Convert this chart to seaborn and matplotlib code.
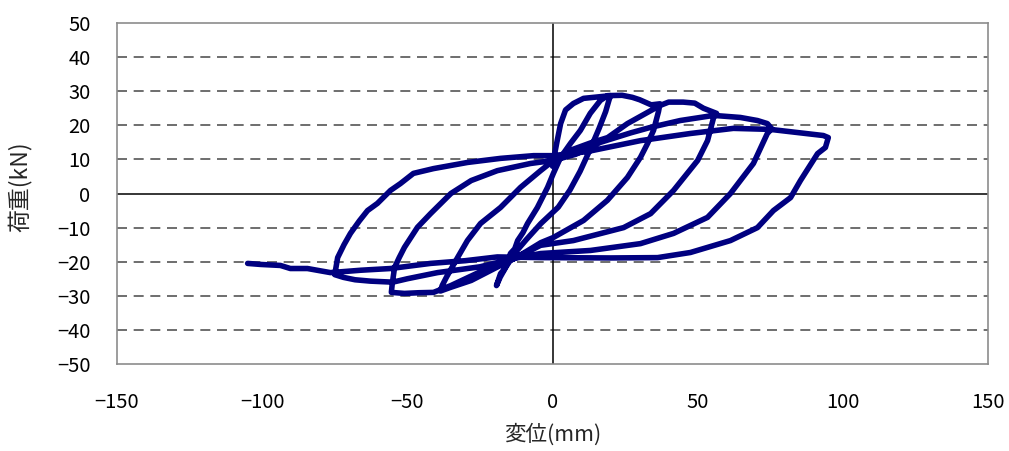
import numpy as np
import pandas as pd
import matplotlib
matplotlib.use("Agg")
import matplotlib.pyplot as plt
import seaborn as sns

# Load-displacement record, split into branches in test order.
# Cycle 1: first loading, unloading, reversal
disp_c1 = [0, 0.3, 0.6, 1.5, 2.8, 4.5, 7.2, 10.7, 16.5, 20.0,
           19.5, 18.3, 16.0, 13.0, 9.5, 6.0, 2.0, -4.0, -9.0, -13.0, -16.0, -18.0, -19.3]
load_c1 = [8.0, 9.0, 11.0, 15.0, 20.5, 24.5, 26.4, 27.9, 28.4, 28.7,
           27.5, 24.0, 19.0, 13.0, 6.5, 1.0, -4.0, -8.8, -13.5, -17.5, -21.5, -24.5, -27.0]

# Cycle 2: reload to the second positive peak, then to the second negative peak
disp_c2 = [-18.5, -17.9, -16.8, -15.5, -14.5, -13.0, -12.0, -10.2, -8.6, -5.2, -1.7, 0.3, 2.8,
           6.2, 9.6, 13.0, 16.5, 19.0, 24.0, 27.5, 30.0, 34.0, 37.0,
           36.5, 34.8, 32.7, 30.3, 25.8, 18.9, 10.7, 0.3, -4.0, -9.0, -13.0,
           -20.0, -28.0, -35.0, -38.6]
load_c2 = [-25.0, -23.5, -22.4, -20.5, -17.6, -16.2, -13.8, -11.5, -8.8, -4.1, 1.8, 5.9, 10.6,
           14.7, 18.5, 23.5, 27.3, 28.7, 28.8, 28.2, 27.5, 26.0, 26.3,
           24.0, 18.5, 14.6, 10.6, 4.7, -2.0, -7.9, -12.9, -14.4, -17.0, -19.0,
           -22.0, -25.5, -27.5, -28.6]

# Cycle 3
disp_c3 = [-38.0, -36.5, -34.5, -32.7, -29.3, -24.8, -17.9, -11.0, -4.1, 1.7,
           7.2, 13.0, 19.0, 25.8, 33.8, 37.0, 40.0, 45.0, 49.0, 52.0, 56.5,
           55.5, 53.4, 50.0, 41.7, 33.8, 24.5, 7.2, -4.1, -13.0,
           -25.0, -35.0, -41.0, -46.0, -51.0, -55.5]
load_c3 = [-27.0, -24.5, -21.5, -18.8, -13.8, -8.8, -4.1, 1.8, 6.7, 10.6,
           13.0, 14.8, 16.4, 20.5, 24.3, 25.8, 26.8, 26.8, 26.5, 25.0, 23.5,
           22.3, 15.5, 9.7, 0.9, -5.9, -10.0, -13.8, -15.2, -19.0,
           -23.0, -27.0, -29.0, -29.1, -29.3, -29.0]

# Cycle 4
disp_c4 = [-55.2, -54.4, -52.8, -51.0, -46.5, -42.0, -35.0, -28.0, -19.0, -7.6, 0.3,
           8.0, 16.5, 27.0, 33.8, 44.0, 55.5, 64.7, 70.6, 74.0, 75.5,
           74.0, 69.2, 61.3, 53.4, 41.7, 30.3, 13.1, -4.1, -13.0,
           -25.0, -39.6, -50.0, -55.0, -62.7, -68.0, -72.0, -75.0]
load_c4 = [-26.5, -21.7, -18.8, -15.8, -9.9, -5.9, 0.0, 3.8, 6.7, 8.8, 9.7,
           11.5, 15.0, 17.8, 19.4, 21.4, 22.9, 22.3, 21.4, 20.5, 19.0,
           17.6, 8.8, 0.0, -7.0, -11.7, -14.7, -16.7, -17.6, -19.0,
           -21.5, -23.2, -25.0, -26.0, -25.7, -25.3, -24.6, -23.8]

# Cycle 5: reload to the largest positive excursion, then the final negative run
disp_c5 = [-74.0, -71.8, -69.6, -66.5, -63.7, -60.3, -55.8, -52.4, -47.9, -41.0, -29.3, -17.9, -6.5, 0.3,
           12.0, 30.3, 47.5, 62.3, 75.0, 85.0, 93.3, 95.0,
           94.0, 91.3, 85.4, 82.0, 76.1, 70.6, 61.3, 47.5, 36.2, 20.0, -4.1,
           -19.0, -30.0, -42.0, -55.8, -66.0, -76.5, -84.4, -90.3, -93.7, -100.6, -105.0]
load_c5 = [-18.8, -15.0, -11.7, -8.0, -5.0, -2.9, 0.9, 2.9, 5.9, 7.3, 9.1, 10.3, 11.1, 11.1,
           12.3, 15.5, 17.6, 19.1, 18.8, 17.8, 17.0, 16.4,
           13.5, 11.7, 3.8, -1.2, -5.0, -10.0, -13.8, -17.3, -18.8, -18.9, -18.8,
           -18.6, -19.7, -20.5, -22.0, -22.5, -23.2, -22.0, -22.0, -21.1, -20.8, -20.5]

disp = disp_c1 + disp_c2 + disp_c3 + disp_c4 + disp_c5
load = load_c1 + load_c2 + load_c3 + load_c4 + load_c5
df = pd.DataFrame({"disp": disp, "load": load, "step": np.arange(len(disp))})

x_ticks = [-150, -100, -50, 0, 50, 100, 150]
y_ticks = [-50, -40, -30, -20, -10, 0, 10, 20, 30, 40, 50]

sns.set_theme(style="white")
plt.rcParams["font.family"] = ["Noto Sans CJK JP", "DejaVu Sans"]

fig = plt.figure(figsize=(10.09, 4.51), dpi=100)
ax = fig.add_axes([117 / 1009, 1 - 364 / 451, 871 / 1009, 341 / 451])

# dashed horizontal grid, solid zero axes
for yv in y_ticks:
    if yv in (-50, 50):
        continue
    if yv == 0:
        ax.axhline(0, color="black", lw=1.1, zorder=1)
    else:
        ax.axhline(yv, color="#555555", lw=1.2, ls=(0, (6, 4)), zorder=1)
ax.axvline(0, color="black", lw=1.1, zorder=1)

sns.lineplot(data=df, x="disp", y="load", sort=False, estimator=None,
             color="#000080", lw=4.0, ax=ax, zorder=3)
for ln in ax.lines[-1:]:
    ln.set_solid_joinstyle("round")
    ln.set_solid_capstyle("round")

ax.set_xlim(-150, 150)
ax.set_ylim(-50, 50)
ax.set_xticks(x_ticks)
ax.set_yticks(y_ticks)
ax.tick_params(axis="both", length=0, labelsize=14.5, colors="black")
ax.tick_params(axis="y", pad=19)
ax.tick_params(axis="x", pad=20)
for sp in ax.spines.values():
    sp.set_color("#8c8c8c")
    sp.set_linewidth(1.2)

ax.set_xlabel("変位(mm)", fontsize=15.5)
ax.set_ylabel("荷重(kN)", fontsize=16.5)
ax.xaxis.set_label_coords(0.5, -0.175)
ax.yaxis.set_label_coords(-0.098, 0.52)

fig.savefig("out.png", dpi=100, facecolor="white")
